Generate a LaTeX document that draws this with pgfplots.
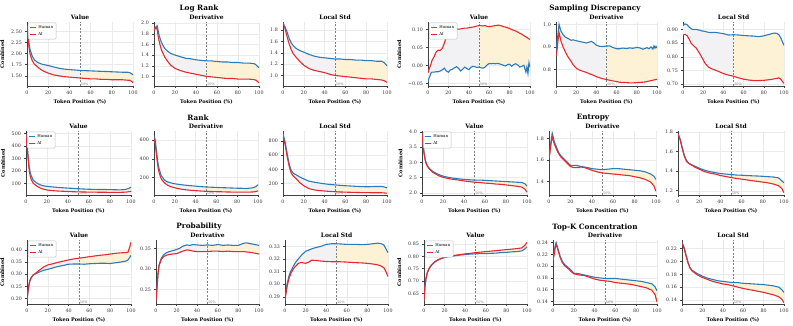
\documentclass[border=0pt]{standalone}
\usepackage{fontspec}
\setmainfont{DejaVu Serif}
\usepackage{pgfplots}
\usepackage{pgfplotstable}
\usepgfplotslibrary{fillbetween}
\pgfplotsset{compat=1.18}

\definecolor{hblue}{RGB}{43,123,186}
\definecolor{ared}{RGB}{226,42,48}
\definecolor{fgray}{RGB}{242,242,244}
\definecolor{fyel}{RGB}{253,242,214}

\pgfplotsset{
  legend image code/.code={\draw[#1] (0pt,0pt) -- (6pt,0pt);},
  panel/.style={
    scale only axis, anchor=south west, height=64pt,
    xmin=0, xmax=100, xtick={0,20,40,60,80,100}, xticklabels={0,20,40,60,80,100},
    axis lines=left, axis line style={-, black!75, line width=0.5pt},
    tick align=outside, major tick length=1.6pt, tick style={black!75, line width=0.4pt},
    grid=major, major grid style={black!8, line width=0.35pt},
    tick label style={font=\fontsize{4.8}{5}\selectfont, text=black!80},
    xlabel={Token Position (\%)},
    label style={font=\bfseries\fontsize{5}{5.5}\selectfont},
    xlabel style={yshift=2pt},
    title style={font=\bfseries\fontsize{6}{6.5}\selectfont, yshift=-7.5pt},
    legend cell align=left,
    legend style={at={(0.01,0.99)}, anchor=north west,
      font=\fontsize{4}{4.2}\selectfont, draw=black!25, rounded corners=1pt,
      inner xsep=1pt, inner ysep=0.5pt, row sep=-1.6pt},
  },
  val/.style={ylabel={Combined}, legend entries={Human,AI}},
  hline/.style={hblue, line width=1.1pt},
  aline/.style={ared, line width=1.1pt},
}

\newcommand{\panel}[6]{%
\begin{axis}[panel, at={(#1pt,#2pt)}, width=#3pt, title={#5}, #6]
\addplot[draw=none, forget plot, name path=H] table[x=x,y=h]{#4};
\addplot[draw=none, forget plot, name path=A] table[x=x,y=a]{#4};
\addplot[fill=fgray, draw=none, forget plot] fill between[of=H and A, soft clip={domain=0:50}];
\addplot[fill=fyel, draw=none, forget plot] fill between[of=H and A, soft clip={domain=50:100}];
\draw[dash pattern=on 2pt off 1.5pt, black!50, line width=0.5pt] ({axis cs:50,0}|-{rel axis cs:0,0}) -- ({axis cs:50,0}|-{rel axis cs:0,1});
\node[anchor=south west, font=\fontsize{3.4}{3.6}\selectfont, text=black!55, inner sep=0.6pt] at ({axis cs:50,0}|-{rel axis cs:0,0}) {50\%};
\addplot[hline] table[x=x,y=h]{#4};
\addplot[aline] table[x=x,y=a]{#4};
\end{axis}}

% ---------------- Log Rank
\pgfplotstableread{
x h a
0 2.63 2.62
1 2.40 2.35
2 2.20 2.12
3 2.08 1.98
5 1.94 1.84
7 1.86 1.76
10 1.80 1.70
13 1.77 1.64
16 1.75 1.60
20 1.73 1.56
25 1.70 1.52
30 1.67 1.50
35 1.65 1.48
40 1.64 1.47
45 1.63 1.46
50 1.62 1.45
55 1.615 1.44
60 1.61 1.43
65 1.605 1.43
70 1.60 1.42
75 1.595 1.42
80 1.59 1.41
85 1.585 1.41
90 1.58 1.41
95 1.58 1.40
97 1.57 1.40
99 1.54 1.37
100 1.52 1.34
}\lrv
\pgfplotstableread{
x h a
0 1.87 1.85
1 1.91 1.90
2 1.93 1.92
3 1.95 1.88
4 1.85 1.75
5 1.76 1.65
7 1.64 1.50
10 1.53 1.37
13 1.47 1.28
16 1.43 1.21
20 1.40 1.15
25 1.37 1.11
30 1.34 1.08
35 1.33 1.06
40 1.31 1.04
45 1.30 1.02
50 1.29 1.00
55 1.29 0.99
60 1.28 0.98
65 1.27 0.97
70 1.27 0.96
75 1.26 0.96
80 1.26 0.95
85 1.25 0.95
90 1.25 0.95
95 1.24 0.94
97 1.22 0.93
100 1.16 0.88
}\lrd
\pgfplotstableread{
x h a
0 1.93 1.91
2 1.85 1.82
4 1.76 1.68
6 1.65 1.55
8 1.57 1.45
10 1.52 1.38
13 1.47 1.31
16 1.44 1.25
20 1.41 1.18
25 1.37 1.12
30 1.34 1.09
35 1.32 1.07
40 1.31 1.05
45 1.30 1.02
50 1.29 1.00
55 1.29 0.99
60 1.28 0.98
65 1.28 0.97
70 1.27 0.96
75 1.27 0.95
80 1.26 0.94
85 1.26 0.94
90 1.25 0.93
95 1.25 0.92
97 1.23 0.91
100 1.17 0.88
}\lrs
% ---------------- Sampling Discrepancy
\pgfplotstableread{
x h a
0 -0.045 -0.020
1 -0.035 -0.010
2 -0.028 -0.003
3 -0.020 0.005
4 -0.018 0.015
6 -0.018 0.025
8 -0.017 0.038
10 -0.017 0.043
12 -0.015 0.042
14 -0.012 0.048
16 -0.007 0.062
18 -0.015 0.080
20 -0.018 0.093
22 -0.012 0.098
24 -0.010 0.100
26 -0.006 0.101
28 -0.003 0.102
30 -0.008 0.101
32 -0.015 0.102
34 -0.010 0.103
36 -0.004 0.104
38 -0.008 0.104
40 -0.011 0.105
42 -0.005 0.106
44 -0.002 0.107
46 -0.003 0.108
48 -0.005 0.110
50 -0.004 0.111
52 -0.006 0.111
54 -0.007 0.110
56 -0.004 0.111
58 0.002 0.109
60 0.006 0.108
62 0.005 0.109
64 0.006 0.110
66 0.005 0.111
68 0.006 0.112
70 0.005 0.112
72 0.003 0.110
74 0.001 0.108
76 -0.001 0.107
78 0.003 0.105
80 0.004 0.103
82 -0.002 0.100
84 0.003 0.098
86 0.005 0.096
88 0.002 0.093
90 -0.004 0.090
92 -0.002 0.087
94 0.001 0.083
96 -0.018 0.080
97 -0.004 0.078
98 -0.022 0.076
99 0.008 0.074
100 -0.004 0.073
}\sdv
\pgfplotstableread{
x h a
0 0.870 0.860
1 0.920 0.885
2 0.960 0.930
3 1.002 0.965
4 0.985 0.945
5 0.970 0.925
7 0.955 0.900
9 0.945 0.880
11 0.940 0.862
13 0.935 0.848
15 0.930 0.835
17 0.932 0.820
20 0.928 0.805
23 0.925 0.797
26 0.922 0.792
30 0.918 0.786
33 0.922 0.780
35 0.925 0.777
37 0.920 0.773
40 0.908 0.767
43 0.903 0.762
46 0.902 0.758
50 0.904 0.754
53 0.905 0.751
56 0.898 0.748
60 0.892 0.745
63 0.892 0.742
66 0.895 0.741
70 0.893 0.740
73 0.896 0.739
76 0.894 0.739
80 0.898 0.740
83 0.896 0.741
86 0.890 0.742
88 0.893 0.743
90 0.897 0.745
92 0.892 0.747
94 0.900 0.749
96 0.891 0.751
97 0.905 0.752
98 0.895 0.753
99 0.903 0.754
100 0.895 0.755
}\sdd
\pgfplotstableread{
x h a
0 0.915 0.880
2 0.921 0.882
4 0.918 0.878
6 0.910 0.865
8 0.903 0.850
10 0.900 0.842
13 0.901 0.832
16 0.898 0.815
19 0.895 0.795
22 0.893 0.775
25 0.890 0.762
28 0.889 0.756
31 0.890 0.752
35 0.888 0.746
40 0.885 0.738
45 0.880 0.732
50 0.881 0.728
55 0.880 0.722
60 0.878 0.717
65 0.877 0.714
70 0.876 0.712
75 0.874 0.712
80 0.877 0.713
85 0.882 0.715
90 0.887 0.718
93 0.886 0.720
95 0.881 0.722
97 0.868 0.716
99 0.850 0.706
100 0.842 0.702
}\sds
% ---------------- Rank
\pgfplotstableread{
x h a
0 495 485
1 420 400
2 320 300
3 235 205
4 190 160
5 160 130
7 125 100
10 105 80
13 90 65
16 82 55
20 76 47
25 72 42
30 68 39
35 65 37
40 62 35
45 60 33
50 57 32
55 55 31
60 53 30
65 52 30
70 51 29
75 51 29
80 50 28
85 49 28
90 48 28
95 52 30
98 60 33
100 70 36
}\rkv
\pgfplotstableread{
x h a
0 640 620
1 610 570
2 520 480
3 420 380
4 340 300
5 290 250
7 220 185
10 175 145
13 155 120
16 145 105
20 135 92
25 127 80
30 120 72
35 115 66
40 110 62
45 105 58
50 101 55
55 99 53
60 96 51
65 94 50
70 92 48
75 90 47
80 88 46
85 87 46
90 86 46
95 92 48
98 105 53
100 125 60
}\rkd
\pgfplotstableread{
x h a
0 900 860
2 790 750
4 620 580
6 470 440
8 380 345
10 345 305
13 320 265
16 295 215
20 265 170
25 235 130
30 220 112
35 208 102
40 197 96
45 188 90
50 182 86
55 176 83
60 170 80
65 166 78
70 162 76
75 158 74
80 156 73
85 157 72
90 160 72
95 160 71
98 150 68
100 140 65
}\rks
% ---------------- Entropy
\pgfplotstableread{
x h a
0 3.96 3.95
1 3.60 3.58
2 3.30 3.28
3 3.10 3.08
4 2.98 2.96
5 2.90 2.88
7 2.80 2.78
10 2.71 2.68
13 2.65 2.62
16 2.60 2.56
20 2.55 2.51
25 2.51 2.47
30 2.48 2.44
35 2.46 2.42
40 2.44 2.39
45 2.43 2.37
50 2.42 2.35
55 2.42 2.34
60 2.41 2.32
65 2.40 2.31
70 2.39 2.29
75 2.38 2.28
80 2.37 2.26
85 2.36 2.24
90 2.35 2.22
95 2.34 2.19
98 2.30 2.12
100 2.22 2.02
}\entv
\pgfplotstableread{
x h a
0 1.62 1.61
1 1.70 1.68
2 1.78 1.76
3 1.85 1.82
4 1.81 1.78
5 1.77 1.75
7 1.72 1.70
9 1.67 1.66
11 1.64 1.63
13 1.62 1.61
15 1.60 1.59
18 1.57 1.56
20 1.55 1.54
23 1.55 1.53
26 1.55 1.53
30 1.54 1.535
33 1.535 1.53
36 1.53 1.52
40 1.52 1.505
45 1.515 1.49
50 1.51 1.48
55 1.515 1.475
60 1.52 1.47
65 1.52 1.465
70 1.515 1.46
75 1.51 1.455
80 1.505 1.445
85 1.50 1.435
90 1.49 1.42
95 1.47 1.395
98 1.45 1.36
100 1.42 1.31
}\entd
\pgfplotstableread{
x h a
0 1.78 1.78
2 1.73 1.72
4 1.64 1.63
6 1.56 1.55
8 1.51 1.50
10 1.48 1.48
13 1.465 1.46
16 1.45 1.44
20 1.43 1.42
25 1.41 1.395
30 1.395 1.38
35 1.385 1.37
40 1.375 1.355
45 1.37 1.345
50 1.365 1.335
55 1.36 1.325
60 1.358 1.318
65 1.355 1.31
70 1.352 1.302
75 1.35 1.295
80 1.347 1.288
85 1.343 1.28
90 1.34 1.268
95 1.33 1.25
98 1.30 1.22
100 1.28 1.18
}\ents
% ---------------- Probability
\pgfplotstableread{
x h a
0 0.190 0.190
1 0.230 0.232
2 0.258 0.260
3 0.275 0.276
4 0.285 0.286
6 0.296 0.297
8 0.301 0.303
10 0.305 0.310
13 0.311 0.320
16 0.316 0.330
20 0.320 0.338
25 0.326 0.343
30 0.332 0.349
35 0.336 0.354
40 0.341 0.359
45 0.342 0.363
50 0.342 0.366
55 0.341 0.369
60 0.343 0.372
65 0.344 0.375
70 0.345 0.378
75 0.345 0.380
80 0.344 0.383
85 0.347 0.386
90 0.350 0.388
95 0.354 0.389
97 0.358 0.390
99 0.370 0.415
100 0.378 0.432
}\prv
\pgfplotstableread{
x h a
0 0.222 0.222
1 0.255 0.255
2 0.290 0.290
3 0.310 0.308
5 0.325 0.322
7 0.333 0.329
10 0.339 0.333
13 0.342 0.335
16 0.344 0.336
20 0.347 0.337
23 0.350 0.340
26 0.355 0.343
30 0.358 0.346
33 0.357 0.345
36 0.359 0.343
40 0.358 0.342
45 0.357 0.342
50 0.358 0.342
55 0.357 0.343
60 0.359 0.343
65 0.357 0.342
70 0.358 0.343
75 0.357 0.342
80 0.357 0.342
85 0.362 0.342
88 0.363 0.341
92 0.361 0.340
96 0.359 0.338
100 0.357 0.336
}\prd
\pgfplotstableread{
x h a
0 0.288 0.287
1 0.294 0.293
2 0.300 0.298
4 0.307 0.305
6 0.311 0.309
8 0.314 0.312
10 0.317 0.314
13 0.320 0.3165
16 0.323 0.3172
20 0.326 0.3165
23 0.327 0.3175
26 0.328 0.319
30 0.329 0.3188
35 0.330 0.3183
40 0.3315 0.318
45 0.332 0.3178
50 0.332 0.3178
55 0.3318 0.3177
60 0.3315 0.3175
65 0.3315 0.3172
70 0.3315 0.317
75 0.3313 0.3168
80 0.3315 0.3165
85 0.332 0.316
90 0.3325 0.3153
93 0.3322 0.3145
96 0.331 0.313
98 0.328 0.310
100 0.325 0.306
}\prs
% ---------------- Top-K Concentration
\pgfplotstableread{
x h a
0 0.620 0.620
1 0.680 0.682
2 0.710 0.712
3 0.730 0.732
5 0.750 0.752
7 0.762 0.764
10 0.775 0.777
13 0.783 0.785
16 0.789 0.791
20 0.795 0.797
25 0.799 0.801
30 0.802 0.804
35 0.805 0.807
40 0.807 0.810
45 0.809 0.812
50 0.810 0.815
55 0.811 0.817
60 0.811 0.819
65 0.812 0.821
70 0.813 0.823
75 0.815 0.825
80 0.816 0.827
85 0.818 0.829
90 0.819 0.831
95 0.822 0.834
98 0.830 0.845
100 0.838 0.856
}\tkv
\pgfplotstableread{
x h a
0 0.215 0.210
1 0.222 0.218
2 0.234 0.230
3 0.240 0.237
4 0.234 0.232
5 0.228 0.226
7 0.216 0.214
9 0.208 0.206
11 0.203 0.201
13 0.200 0.198
15 0.197 0.195
18 0.192 0.190
20 0.188 0.187
25 0.187 0.185
30 0.185 0.184
35 0.183 0.181
40 0.181 0.178
45 0.180 0.176
50 0.179 0.175
55 0.179 0.174
60 0.179 0.172
65 0.178 0.171
70 0.177 0.170
75 0.176 0.169
80 0.175 0.167
85 0.174 0.165
90 0.172 0.163
95 0.170 0.159
98 0.165 0.152
100 0.158 0.139
}\tkd
\pgfplotstableread{
x h a
0 0.229 0.228
2 0.222 0.220
4 0.210 0.208
6 0.198 0.197
8 0.190 0.189
10 0.186 0.185
15 0.181 0.179
20 0.177 0.175
25 0.174 0.172
30 0.172 0.169
35 0.170 0.167
40 0.169 0.165
45 0.168 0.164
50 0.167 0.162
55 0.167 0.160
60 0.166 0.158
65 0.1655 0.1565
70 0.165 0.155
75 0.1645 0.1535
80 0.164 0.152
85 0.163 0.150
90 0.162 0.148
95 0.160 0.145
98 0.156 0.141
100 0.152 0.136
}\tks

\begin{document}
\begin{tikzpicture}
\tikzset{grp/.style={font=\bfseries\fontsize{7.3}{8}\selectfont}}

% row 1
\node[grp] at (199pt,317pt) {Log Rank};
\node[grp] at (595pt,317pt) {Sampling Discrepancy};
\panel{27}{240}{106}{\lrv}{Value}{val, ymin=1.27, ymax=2.71,
  ytick={1.5,1.75,2,2.25,2.5}, yticklabels={1.50,1.75,2.00,2.25,2.50}}
\panel{154}{240}{105}{\lrd}{Derivative}{ymin=0.82, ymax=2.02,
  ytick={1,1.2,1.4,1.6,1.8,2}, yticklabels={1.0,1.2,1.4,1.6,1.8,2.0}}
\panel{283}{240}{104}{\lrs}{Local Std}{ymin=0.815, ymax=1.94,
  ytick={1,1.2,1.4,1.6,1.8}, yticklabels={1.0,1.2,1.4,1.6,1.8}}
\panel{428}{240}{102}{\sdv}{Value}{val, ymin=-0.0565, ymax=0.121,
  ytick={-0.05,0,0.05,0.1}, yticklabels={−0.05,0.00,0.05,0.10}}
\panel{556}{240}{101}{\sdd}{Derivative}{ymin=0.725, ymax=1.012,
  ytick={0.8,0.9,1}, yticklabels={0.8,0.9,1.0}}
\panel{683}{240}{101}{\sds}{Local Std}{ymin=0.692, ymax=0.928,
  ytick={0.7,0.75,0.8,0.85,0.9}, yticklabels={0.70,0.75,0.80,0.85,0.90}}

% row 2
\node[grp] at (198pt,208pt) {Rank};
\node[grp] at (593pt,208pt) {Entropy};
\panel{26}{131}{105}{\rkv}{Value}{val, ymin=7, ymax=520,
  ytick={100,200,300,400,500}, yticklabels={100,200,300,400,500}}
\panel{154}{131}{104}{\rkd}{Derivative}{ymin=16, ymax=695,
  ytick={200,400,600}, yticklabels={200,400,600}}
\panel{283}{131}{104}{\rks}{Local Std}{ymin=40, ymax=940,
  ytick={200,400,600,800}, yticklabels={200,400,600,800}}
\panel{422}{131}{105}{\entv}{Value}{val, ymin=1.93, ymax=4.03,
  ytick={2,2.5,3,3.5,4}, yticklabels={2.0,2.5,3.0,3.5,4.0}}
\panel{549}{131}{107}{\entd}{Derivative}{ymin=1.275, ymax=1.87,
  ytick={1.4,1.6,1.8}, yticklabels={1.4,1.6,1.8}}
\panel{678}{131}{106}{\ents}{Local Std}{ymin=1.156, ymax=1.81,
  ytick={1.2,1.4,1.6,1.8}, yticklabels={1.2,1.4,1.6,1.8}}

% row 3
\node[grp] at (199pt,99pt) {Probability};
\node[grp] at (595pt,99pt) {Top-K Concentration};
\panel{27}{22}{104}{\prv}{Value}{val, ymin=0.177, ymax=0.441,
  ytick={0.2,0.25,0.3,0.35,0.4}, yticklabels={0.20,0.25,0.30,0.35,0.40}}
\panel{156}{22}{103}{\prd}{Derivative}{ymin=0.215, ymax=0.37,
  ytick={0.25,0.3,0.35}, yticklabels={0.25,0.30,0.35}}
\panel{285}{22}{103}{\prs}{Local Std}{ymin=0.2843, ymax=0.335,
  ytick={0.29,0.3,0.31,0.32,0.33}, yticklabels={0.29,0.30,0.31,0.32,0.33}}
\panel{424}{22}{103}{\tkv}{Value}{val, ymin=0.607, ymax=0.866,
  ytick={0.65,0.7,0.75,0.8,0.85}, yticklabels={0.65,0.70,0.75,0.80,0.85}}
\panel{553}{22}{104}{\tkd}{Derivative}{ymin=0.1355, ymax=0.2445,
  ytick={0.14,0.16,0.18,0.2,0.22,0.24}, yticklabels={0.14,0.16,0.18,0.20,0.22,0.24}}
\panel{682}{22}{102}{\tks}{Local Std}{ymin=0.134, ymax=0.233,
  ytick={0.14,0.16,0.18,0.2,0.22}, yticklabels={0.14,0.16,0.18,0.20,0.22}}

\pgfresetboundingbox
\path (0,0) rectangle (793pt,326pt);
\end{tikzpicture}
\end{document}
